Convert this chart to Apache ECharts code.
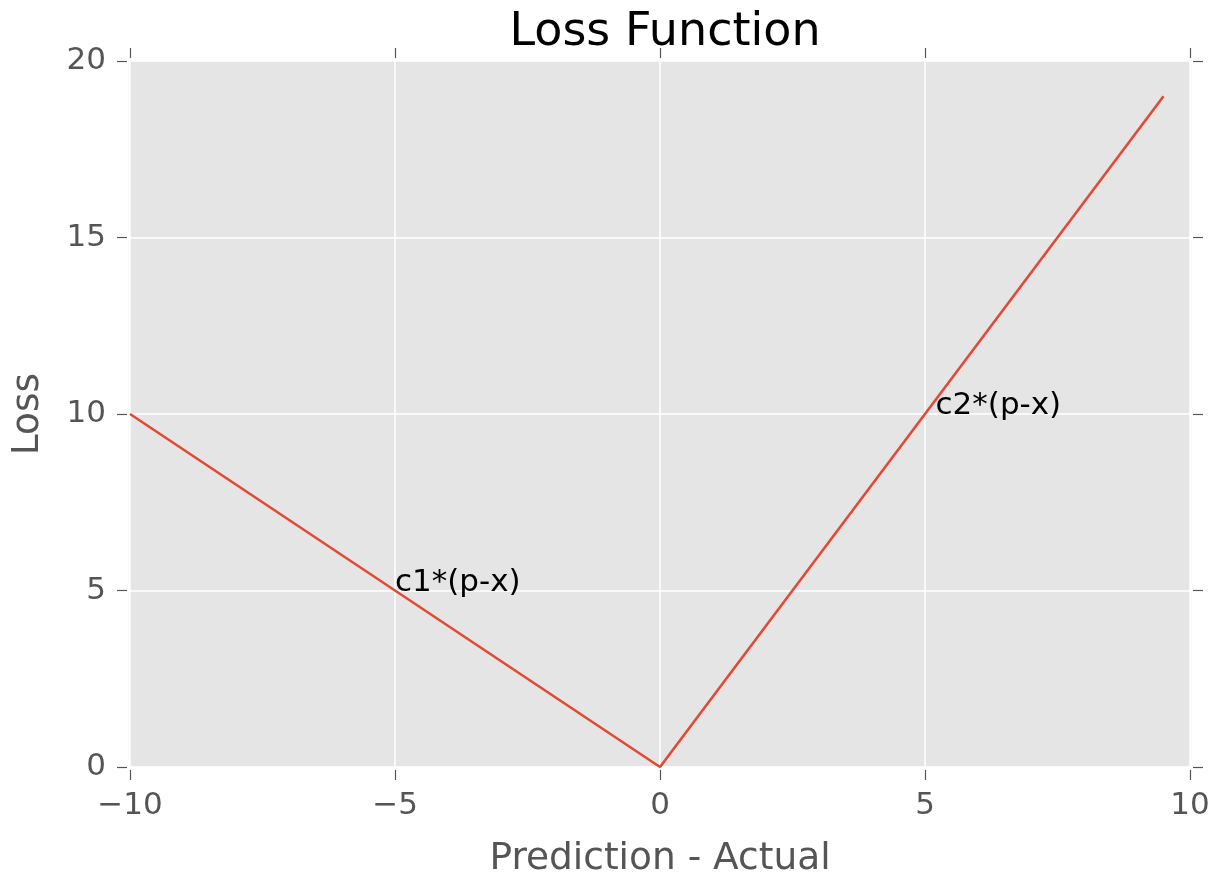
<!DOCTYPE html>
<html>
<head>
<meta charset="utf-8">
<script src="https://cdn.jsdelivr.net/npm/echarts@6/dist/echarts.min.js"></script>
<style>html,body{margin:0;padding:0;background:#fff;}#c{width:1225px;height:874px;}</style>
</head>
<body>
<div id="c"></div>
<script>
const titleText = 'Loss Function';
const xLabel = 'Prediction - Actual';
const yLabel = 'Loss';
const lossX = [-10, 0, 9.5];
const lossY = [10, 0, 19];
const annX = [-5, 5.2];
const annY = [5, 10];
const annText = ['c1*(p-x)', 'c2*(p-x)'];
const xMin = -10, xMax = 10, xStep = 5;
const yMin = 0, yMax = 20, yStep = 5;

const FONT = 'DejaVu Sans';
const fmt = v => v < 0 ? '\u2212' + Math.abs(v) : String(v);
const tickStyle = { show: true, inside: false, length: 10, lineStyle: { color: '#555555', width: 1.2 } };
const noLine = { show: false, onZero: false };

const chart = echarts.init(document.getElementById('c'), null, { renderer: 'canvas' });
chart.setOption({
  animation: false,
  backgroundColor: '#ffffff',
  title: {
    text: titleText, left: 660, top: 5, textAlign: 'center',
    textStyle: { fontFamily: FONT, fontSize: 46, fontWeight: 'normal', color: '#000000' }
  },
  grid: {
    left: 130, right: 35, top: 61, bottom: 107,
    show: true, backgroundColor: '#E5E5E5', borderWidth: 0,
    containLabel: false, outerBoundsMode: 'none'
  },
  xAxis: [{
    type: 'value', min: xMin, max: xMax, interval: xStep, position: 'bottom', offset: 3,
    name: xLabel, nameLocation: 'middle', nameGap: 70,
    nameTextStyle: { fontFamily: FONT, fontSize: 37.5, color: '#555555' },
    axisLine: noLine, axisTick: tickStyle,
    axisLabel: { fontFamily: FONT, fontSize: 31, color: '#555555', margin: 20, formatter: fmt },
    splitLine: { show: true, lineStyle: { color: '#ffffff', width: 1.5 } }
  }, {
    type: 'value', min: xMin, max: xMax, interval: xStep, position: 'top', offset: 3,
    axisLine: noLine, axisTick: tickStyle, axisLabel: { show: false }, splitLine: { show: false }
  }],
  yAxis: [{
    type: 'value', min: yMin, max: yMax, interval: yStep, position: 'left', offset: 3,
    name: yLabel, nameLocation: 'middle', nameGap: 80, nameRotate: 90,
    nameTextStyle: { fontFamily: FONT, fontSize: 37.5, color: '#555555' },
    axisLine: noLine, axisTick: tickStyle,
    axisLabel: { fontFamily: FONT, fontSize: 31, color: '#555555', margin: 21, formatter: fmt },
    splitLine: { show: true, lineStyle: { color: '#ffffff', width: 1.5 } }
  }, {
    type: 'value', min: yMin, max: yMax, interval: yStep, position: 'right', offset: 3,
    axisLine: noLine, axisTick: tickStyle, axisLabel: { show: false }, splitLine: { show: false }
  }],
  series: [{
    type: 'line', xAxisIndex: 0, yAxisIndex: 0,
    data: lossX.map((x, i) => [x, lossY[i]]),
    showSymbol: false, symbol: 'none',
    lineStyle: { color: '#E24A33', width: 2.6 }, z: 3
  }, {
    type: 'scatter', xAxisIndex: 0, yAxisIndex: 0,
    data: annX.map((x, i) => ({ value: [x, annY[i]], name: annText[i] })),
    symbolSize: 0.1, itemStyle: { color: 'rgba(0,0,0,0)' }, z: 4,
    label: {
      show: true, position: [0, 0], align: 'left', verticalAlign: 'bottom',
      offset: [0, 8], formatter: p => p.name,
      fontFamily: FONT, fontSize: 31, color: '#000000', opacity: 1
    }
  }]
});
</script>
</body>
</html>
